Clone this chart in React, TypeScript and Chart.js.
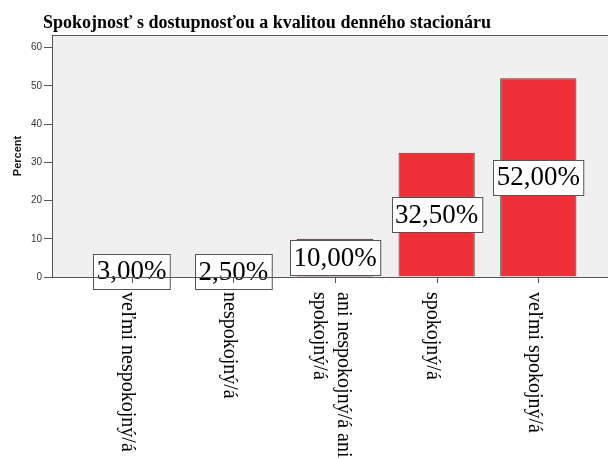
import React, { useEffect, useRef } from "react";
import { Chart, registerables } from "chart.js";

Chart.register(...registerables);

const titleText = "Spokojnosť s dostupnosťou a kvalitou denného stacionáru";
const yAxisTitle = "Percent";
const categories: (string | string[])[] = [
  "veľmi nespokojný/á",
  "nespokojný/á",
  ["ani nespokojný/á ani", "spokojný/á"],
  "spokojný/á",
  "veľmi spokojný/á",
];
const percentValues = [3.0, 2.5, 10.0, 32.5, 52.0];
const valueLabels = ["3,00%", "2,50%", "10,00%", "32,50%", "52,00%"];
const barColors = ["#6e1b1b", "#6e1b1b", "#6e1b1b", "#ef3039", "#ef3039"];
const yTicks = [0, 10, 20, 30, 40, 50, 60];

const SERIF = "'Liberation Serif', 'Times New Roman', serif";
const SANS = "'Liberation Sans', Arial, sans-serif";

const customPlugin = {
  id: "spssLook",
  beforeDraw(chart: any) {
    const { ctx, chartArea } = chart;
    ctx.save();
    ctx.fillStyle = "#f0f0f0";
    ctx.fillRect(chartArea.left, chartArea.top, chartArea.right - chartArea.left, chartArea.bottom - chartArea.top);
    ctx.strokeStyle = "#555";
    ctx.lineWidth = 1;
    ctx.beginPath();
    ctx.moveTo(chartArea.left, chartArea.top + 0.5);
    ctx.lineTo(chartArea.right, chartArea.top + 0.5);
    ctx.stroke();
    ctx.restore();
  },
  afterDatasetsDraw(chart: any) {
    const { ctx, chartArea } = chart;
    const xScale = chart.scales.x;
    const meta = chart.getDatasetMeta(0);
    ctx.save();
    ctx.font = `27px ${SERIF}`;
    meta.data.forEach((bar: any, i: number) => {
      const label = valueLabels[i];
      const cy = (bar.y + bar.base) / 2;
      const w = ctx.measureText(label).width + 7;
      const h = 35;
      const x0 = Math.round(bar.x - w / 2) + 0.5;
      const y0 = Math.round(cy - h / 2) + 0.5;
      ctx.fillStyle = "#ffffff";
      ctx.fillRect(x0, y0, w, h);
      ctx.strokeStyle = "#555";
      ctx.lineWidth = 1;
      ctx.strokeRect(x0, y0, w, h);
      ctx.fillStyle = "#000";
      ctx.textAlign = "center";
      ctx.textBaseline = "middle";
      ctx.fillText(label, bar.x, cy + 1);
    });
    // axis line over boxes
    ctx.strokeStyle = "#555";
    ctx.lineWidth = 1;
    ctx.beginPath();
    ctx.moveTo(chartArea.left - 8, chartArea.bottom + 0.5);
    ctx.lineTo(chartArea.right, chartArea.bottom + 0.5);
    ctx.stroke();
    // x tick marks
    categories.forEach((_, i) => {
      const x = Math.round(xScale.getPixelForValue(i)) + 0.5;
      ctx.beginPath();
      ctx.moveTo(x, chartArea.bottom);
      ctx.lineTo(x, chartArea.bottom + 6);
      ctx.stroke();
    });
    ctx.restore();
  },
  afterDraw(chart: any) {
    const { ctx, chartArea } = chart;
    const xScale = chart.scales.x;
    ctx.save();
    // title
    ctx.font = `bold 18px ${SERIF}`;
    ctx.fillStyle = "#000";
    ctx.textAlign = "left";
    ctx.textBaseline = "alphabetic";
    ctx.fillText(titleText, 43, 28);
    // category labels rotated clockwise
    ctx.font = `20px ${SERIF}`;
    ctx.textAlign = "left";
    ctx.textBaseline = "middle";
    categories.forEach((cat, i) => {
      const lines = Array.isArray(cat) ? cat : [cat];
      const x = xScale.getPixelForValue(i);
      ctx.save();
      ctx.translate(x, chartArea.bottom + 15);
      ctx.rotate(Math.PI / 2);
      lines.forEach((ln, j) => {
        const off = (j - (lines.length - 1) / 2) * 24 + 4;
        ctx.fillText(ln, 0, off);
      });
      ctx.restore();
    });
    ctx.restore();
  },
};

export default function App() {
  const ref = useRef<HTMLCanvasElement>(null);
  useEffect(() => {
    if (!ref.current) return;
    const chart = new Chart(ref.current, {
      type: "bar",
      data: {
        datasets: [
          {
            data: percentValues.map((v, i) => ({ x: i, y: v })),
            backgroundColor: barColors,
            borderColor: "#444",
            borderWidth: 1,
            barPercentage: 0.75,
            categoryPercentage: 1,
          },
        ],
      },
      options: {
        animation: false,
        responsive: false,
        devicePixelRatio: 1,
        layout: { padding: { top: 35, right: 2, left: 0, bottom: 0 } },
        plugins: {
          legend: { display: false },
          tooltip: { enabled: false },
          title: { display: false },
        },
        scales: {
          x: {
            type: "linear",
            min: -0.784,
            max: 4.784,
            offset: false,
            afterBuildTicks: (s: any) => {
              s.ticks = categories.map((_, i) => ({ value: i }));
            },
            ticks: { display: false },
            grid: { display: false },
            border: { display: true, color: "#555" },
            afterFit: (s: any) => {
              s.height = 182;
            },
          },
          y: {
            min: 0,
            max: 63.3,
            afterBuildTicks: (s: any) => {
              s.ticks = yTicks.map((v) => ({ value: v }));
            },
            ticks: { font: { size: 10, family: SANS }, color: "#333", padding: 2 },
            grid: { drawOnChartArea: false, tickLength: 8, color: "#555" },
            border: { color: "#555" },
            title: {
              display: true,
              text: yAxisTitle,
              font: { size: 11, weight: "bold", family: SANS },
              color: "#111",
              padding: { top: 11, bottom: 0 },
            },
            afterFit: (s: any) => {
              s.width = 52;
            },
          },
        },
      } as any,
      plugins: [customPlugin],
    });
    return () => chart.destroy();
  }, []);
  return (
    <div style={{ position: "absolute", left: 0, top: 0, width: 608, height: 459, overflow: "hidden", background: "#fff" }}>
      <canvas ref={ref} width={620} height={459} style={{ display: "block" }} />
    </div>
  );
}
